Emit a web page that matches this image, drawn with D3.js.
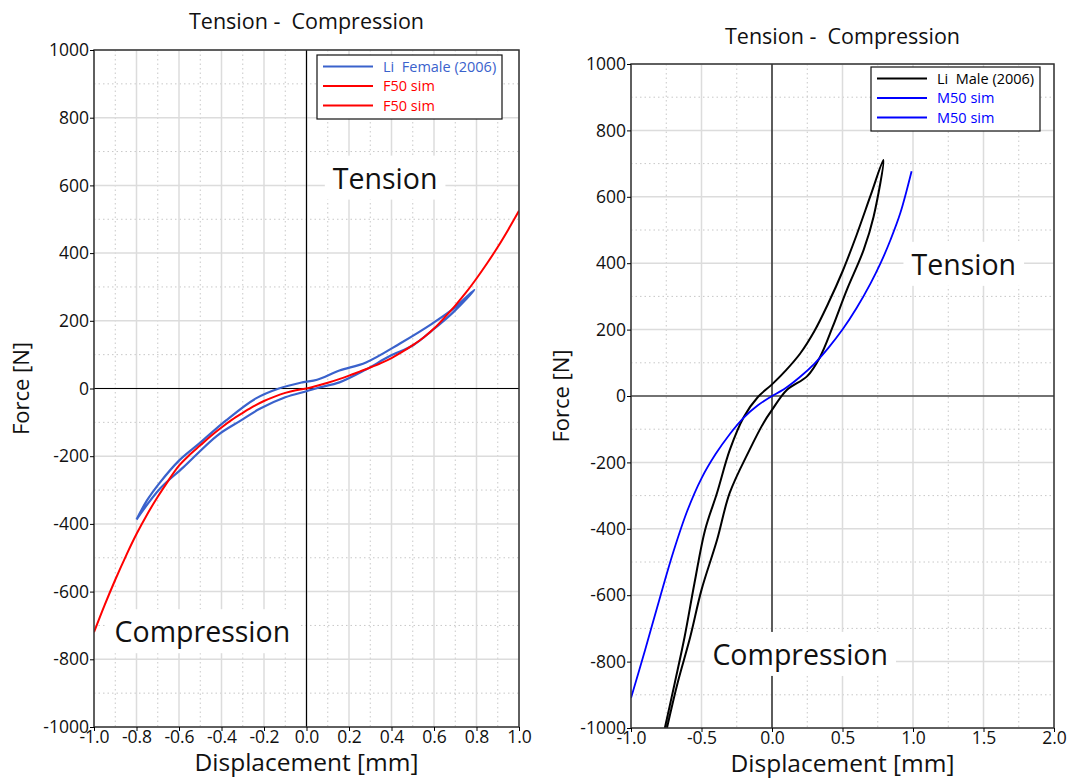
<!DOCTYPE html>
<html>
<head>
<meta charset="utf-8">
<script src="https://cdn.jsdelivr.net/npm/d3@7"></script>
<style>
  body { margin: 0; background: #fff; }
  text { font-family: "Open Sans", "Noto Sans", sans-serif; }
</style>
</head>
<body>
<svg id="chart" width="1069" height="778"></svg>
<script>
// left chart: female data
let liFemale = [
  [-0.8, -387], [-0.75, -330], [-0.69, -278], [-0.6, -213], [-0.5, -160], [-0.38, -95],
  [-0.24, -30], [-0.13, 0], [-0.02, 18], [0.05, 26], [0.155, 53], [0.28, 77],
  [0.44, 133], [0.59, 191], [0.69, 235], [0.79, 291],
  [0.69, 225], [0.59, 171], [0.5, 127], [0.39, 95], [0.28, 56], [0.155, 18],
  [0.06, 3], [0.0, -8], [-0.1, -26], [-0.22, -60], [-0.31, -95], [-0.42, -139],
  [-0.58, -233], [-0.69, -296], [-0.8, -387]
];
let f50Compression = [
  [-1.0, -720], [-0.95, -640], [-0.9, -565], [-0.85, -495], [-0.8, -430], [-0.75, -372],
  [-0.7, -320], [-0.65, -272], [-0.6, -228], [-0.55, -196], [-0.5, -168], [-0.45, -140],
  [-0.4, -115], [-0.35, -92], [-0.3, -72], [-0.25, -53], [-0.2, -37], [-0.15, -24],
  [-0.1, -13], [-0.05, -5], [0, 0]
];
let f50Tension = [
  [0, 0], [0.05, 8], [0.1, 17], [0.15, 27], [0.2, 38], [0.25, 50], [0.3, 62], [0.35, 75],
  [0.4, 90], [0.45, 108], [0.5, 128], [0.55, 150], [0.6, 177], [0.65, 210], [0.7, 245],
  [0.75, 283], [0.8, 325], [0.85, 370], [0.9, 418], [0.95, 470], [1.0, 525]
];

// right chart: male data
let liMale = [
  [-0.76, -1000], [-0.69, -865], [-0.62, -726], [-0.55, -564], [-0.475, -404], [-0.39, -292],
  [-0.3, -163], [-0.2, -63], [-0.1, -3], [0, 35], [0.1, 78], [0.2, 128], [0.3, 195],
  [0.4, 280], [0.5, 375], [0.6, 485], [0.7, 605], [0.79, 711],
  [0.72, 539], [0.65, 440], [0.53, 319], [0.43, 208], [0.34, 117], [0.25, 60],
  [0.105, 18], [0, -42], [-0.06, -81], [-0.16, -163], [-0.3, -292], [-0.39, -434],
  [-0.5, -584], [-0.58, -726], [-0.67, -865], [-0.745, -1000]
];
let m50Compression = [
  [-1.0, -910], [-0.9, -765], [-0.8, -615], [-0.7, -470], [-0.6, -345], [-0.5, -248],
  [-0.4, -175], [-0.3, -115], [-0.2, -65], [-0.1, -28], [0, 0]
];
let m50Tension = [
  [0, 0], [0.1, 25], [0.2, 58], [0.3, 97], [0.4, 145], [0.5, 200], [0.6, 265],
  [0.7, 340], [0.77, 400], [0.84, 470], [0.91, 551], [0.99, 677]
];

let leftXTicks = [-1.0, -0.8, -0.6, -0.4, -0.2, 0.0, 0.2, 0.4, 0.6, 0.8, 1.0];
let rightXTicks = [-1.0, -0.5, 0.0, 0.5, 1.0, 1.5, 2.0];
let yTicks = [-1000, -800, -600, -400, -200, 0, 200, 400, 600, 800, 1000];

let svg = d3.select("#chart");

// plain hyphen instead of the unicode minus of d3.format
let fmtX = d => d3.format(".1f")(d).replace("\u2212", "-");
let fmtY = d => d3.format("d")(d).replace("\u2212", "-");

function drawChart(c) {
  let x = d3.scaleLinear().domain(c.xDomain).range([c.left, c.right]);
  let y = d3.scaleLinear().domain([-1000, 1000]).range([c.bottom, c.top]);
  let g = svg.append("g");

  let clipId = "clip" + c.id;
  g.append("clipPath").attr("id", clipId).append("rect")
    .attr("x", c.left).attr("y", c.top)
    .attr("width", c.right - c.left).attr("height", c.bottom - c.top);

  // minor grid (dotted)
  g.selectAll(".mx").data(d3.range(c.xDomain[0] + c.xMinor, c.xDomain[1], c.xMinor * 2))
    .enter().append("line")
    .attr("x1", d => x(d)).attr("x2", d => x(d))
    .attr("y1", c.top).attr("y2", c.bottom)
    .attr("stroke", "#c8c8c8").attr("stroke-dasharray", "1.5,3");
  g.selectAll(".my").data(d3.range(-900, 1000, 200))
    .enter().append("line")
    .attr("y1", d => y(d)).attr("y2", d => y(d))
    .attr("x1", c.left).attr("x2", c.right)
    .attr("stroke", "#c8c8c8").attr("stroke-dasharray", "1.5,3");

  // major grid
  g.selectAll(".gx").data(c.xTicks).enter().append("line")
    .attr("x1", d => x(d)).attr("x2", d => x(d))
    .attr("y1", c.top).attr("y2", c.bottom)
    .attr("stroke", "#dcdcdc").attr("stroke-width", 1.5);
  g.selectAll(".gy").data(yTicks).enter().append("line")
    .attr("y1", d => y(d)).attr("y2", d => y(d))
    .attr("x1", c.left).attr("x2", c.right)
    .attr("stroke", "#dcdcdc").attr("stroke-width", 1.5);

  // zero lines
  g.append("line").attr("x1", x(0)).attr("x2", x(0)).attr("y1", c.top).attr("y2", c.bottom)
    .attr("stroke", "#000").attr("stroke-width", 1.2);
  g.append("line").attr("y1", y(0)).attr("y2", y(0)).attr("x1", c.left).attr("x2", c.right)
    .attr("stroke", "#000").attr("stroke-width", 1.2);

  // region labels with white box
  c.labels.forEach(function (l) {
    let t = g.append("text").attr("x", x(l.x)).attr("y", y(l.y))
      .attr("text-anchor", "middle").attr("dy", "0.35em")
      .attr("font-size", 28.5).attr("fill", "#111").text(l.text);
    let b = t.node().getBBox();
    g.insert("rect", function () { return t.node(); })
      .attr("x", b.x - 8).attr("y", b.y - 3)
      .attr("width", b.width + 16).attr("height", b.height + 6)
      .attr("fill", "#fff");
  });

  // curves
  let line = d3.line().x(d => x(d[0])).y(d => y(d[1])).curve(d3.curveCatmullRom);
  c.series.forEach(function (s) {
    g.append("path").datum(s.data)
      .attr("clip-path", "url(#" + clipId + ")")
      .attr("d", line).attr("fill", "none")
      .attr("stroke", s.color).attr("stroke-width", s.width);
  });

  // border
  g.append("rect").attr("x", c.left).attr("y", c.top)
    .attr("width", c.right - c.left).attr("height", c.bottom - c.top)
    .attr("fill", "none").attr("stroke", "#333").attr("stroke-width", 1.5);

  // axes
  g.append("g").attr("transform", "translate(0," + c.bottom + ")")
    .call(d3.axisBottom(x).tickValues(c.xTicks).tickFormat(fmtX).tickSize(4).tickPadding(0))
    .call(a => a.select(".domain").remove())
    .selectAll("text").attr("font-size", 17.5).attr("fill", "#111")
    .style("font-family", "'Open Sans', 'Noto Sans', sans-serif");
  g.append("g").attr("transform", "translate(" + c.left + ",0)")
    .call(d3.axisLeft(y).tickValues(yTicks).tickFormat(fmtY).tickSize(4).tickPadding(1))
    .call(a => a.select(".domain").remove())
    .selectAll("text").attr("font-size", 17.5).attr("fill", "#111")
    .style("font-family", "'Open Sans', 'Noto Sans', sans-serif");

  g.append("text").attr("x", (c.left + c.right) / 2).attr("y", c.bottom + 44)
    .attr("text-anchor", "middle").attr("font-size", 24.5).attr("fill", "#111")
    .text("Displacement [mm]");
  g.append("text")
    .attr("transform", "translate(" + c.yLabelX + "," + y(0) + ")rotate(-90)")
    .attr("text-anchor", "middle").attr("font-size", 22).attr("fill", "#111")
    .text("Force [N]");
  g.append("text").attr("x", (c.left + c.right) / 2).attr("y", c.titleY)
    .attr("text-anchor", "middle").attr("font-size", 21.5).attr("fill", "#111")
    .style("white-space", "pre")
    .text("Tension -  Compression");

  // legend
  let lg = g.append("g").attr("transform", "translate(" + c.legend[0] + "," + c.legend[1] + ")");
  lg.append("rect").attr("width", c.legendW).attr("height", 64)
    .attr("fill", "#fff").attr("stroke", "#111").attr("stroke-width", 1.2);
  c.series.forEach(function (s, i) {
    let yy = 11.5 + i * 19.5;
    lg.append("line").attr("x1", 6).attr("x2", 56).attr("y1", yy).attr("y2", yy)
      .attr("stroke", s.color).attr("stroke-width", 2);
    lg.append("text").attr("x", 66).attr("y", yy).attr("dy", "0.35em")
      .attr("font-size", 14.5).attr("fill", s.textColor || s.color)
      .style("white-space", "pre").text(s.name);
  });
}

drawChart({
  id: "L", xDomain: [-1, 1], xTicks: leftXTicks, xMinor: 0.1,
  left: 94, right: 519, top: 50, bottom: 727, yLabelX: 29, titleY: 29,
  legend: [317, 55], legendW: 185,
  labels: [{ x: 0.37, y: 620, text: "Tension" }, { x: -0.49, y: -720, text: "Compression" }],
  series: [
    { name: "Li  Female (2006)", data: liFemale, color: "#3a62cc", width: 2.2 },
    { name: "F50 sim", data: f50Compression, color: "#ff0000", width: 2 },
    { name: "F50 sim", data: f50Tension, color: "#ff0000", width: 2 }
  ]
});

drawChart({
  id: "R", xDomain: [-1, 2], xTicks: rightXTicks, xMinor: 0.25,
  left: 631, right: 1054, top: 64, bottom: 728, yLabelX: 569, titleY: 44,
  legend: [871, 67], legendW: 169,
  labels: [{ x: 1.36, y: 395, text: "Tension" }, { x: 0.2, y: -780, text: "Compression" }],
  series: [
    { name: "Li  Male (2006)", data: liMale, color: "#000", width: 2 },
    { name: "M50 sim", data: m50Compression, color: "#0000ff", width: 1.8 },
    { name: "M50 sim", data: m50Tension, color: "#0000ff", width: 1.8 }
  ]
});
</script>
</body>
</html>
